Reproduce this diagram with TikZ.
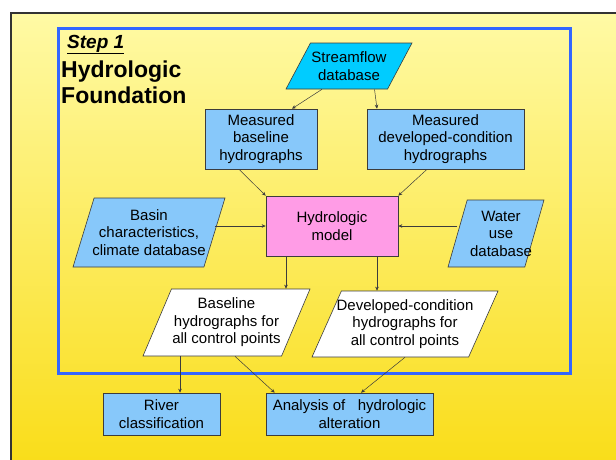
\documentclass[tikz,border=0pt]{standalone}
\usepackage{fontspec}
\setmainfont{Liberation Sans}
\usetikzlibrary{shapes.geometric,arrows.meta}
\definecolor{slidetop}{RGB}{255,250,165}
\definecolor{slidebot}{RGB}{249,220,20}
\definecolor{frameblue}{RGB}{51,102,255}
\definecolor{boxblue}{RGB}{135,200,250}
\definecolor{dbcyan}{RGB}{0,204,255}
\definecolor{modelpink}{RGB}{255,156,230}
\definecolor{edgegray}{RGB}{60,60,60}
\begin{document}
\begin{tikzpicture}[x=1pt,y=-1pt,
  txt/.style={align=center,inner sep=0pt,font=\fontsize{15}{17.5}\selectfont},
  box/.style={txt,draw=edgegray,line width=0.6pt},
  rbox/.style={box,rectangle,fill=boxblue},
  pbox/.style={box,trapezium,trapezium stretches body,
    trapezium left angle=#1,trapezium right angle={180-#1}},
  arr/.style={draw=edgegray,line width=0.5pt,-{Stealth[length=4pt,width=3.5pt]}}]
\useasboundingbox (0,0) rectangle (616,459);
\fill[white] (0,0) rectangle (616,459);
\shade[top color=slidetop,bottom color=slidebot,draw=black!80,line width=2pt] (11,13) rectangle (640,480);
\draw[frameblue,line width=3pt] (58,28) rectangle (570,373);
\node[anchor=base west,inner sep=0pt,font=\fontsize{19}{21}\selectfont\bfseries\itshape] (step) at (67,48) {\underline{Step 1}};
\node[anchor=north west,align=left,inner sep=0pt,font=\fontsize{23}{26}\selectfont\bfseries] (title) at (61,61) {Hydrologic\\Foundation};
% boxes
\node[pbox=62,fill=dbcyan,minimum width=126pt,
  label={[txt]center:Streamflow\\database}] (stream) at (349,66) {\rule{0pt}{46pt}};
\node[rbox,minimum width=112pt,minimum height=60pt] (mbase) at (261,139) {Measured\\baseline\\hydrographs};
\node[rbox,minimum width=157pt,minimum height=60pt] (mdev) at (445.5,139) {Measured\\developed-condition\\hydrographs};
\node[box,fill=modelpink,minimum width=132pt,minimum height=60pt] (model) at (332,226) {Hydrologic\\model};
\node[pbox=73,fill=boxblue,minimum width=152pt,
  label={[txt]center:Basin\\characteristics,\\climate database}] (basin) at (149,232.5) {\rule{0pt}{69pt}};
\node[pbox=74,fill=boxblue,minimum width=96pt,
  label={[txt,xshift=5pt]center:Water\\use\\database}] (water) at (496,233.5) {\rule{0pt}{67pt}};
\node[pbox=67,fill=white,minimum width=167pt,
  label={[txt]center:Baseline\\hydrographs for\\all control points}] (base) at (226.5,322.5) {\rule{0pt}{67pt}};
\node[pbox=66,fill=white,minimum width=186pt,
  label={[txt]center:Developed-condition\\hydrographs for\\all control points}] (dev) at (405,324) {\rule{0pt}{66pt}};
\node[rbox,minimum width=117pt,minimum height=42pt] (river) at (161.5,414) {River\\classification};
\node[rbox,minimum width=167pt,minimum height=42pt] (alter) at (349.5,414) {Analysis of\ \ \ hydrologic\\alteration};
% connectors
\coordinate (m1) at ([xshift=-46pt]model.south);
\coordinate (m2) at ([xshift=45pt]model.south);
\coordinate (b1) at ([xshift=-46.5pt]base.south);
\draw[arr] ([xshift=-27pt]stream.south) -- ([xshift=31pt]mbase.north);
\draw[arr] ([xshift=25.5pt]stream.south) -- ([xshift=-68.5pt]mdev.north);
\draw[arr] ([xshift=-22pt]mbase.south) -- (model.north west);
\draw[arr] ([xshift=-18.5pt]mdev.south) -- (model.north east);
\draw[arr] (basin.east |- model.west) -- (model.west);
\draw[arr] (water.west |- model.east) -- (model.east);
\draw[arr] (m1) -- (m1 |- base.north);
\draw[arr] (m2) -- (m2 |- dev.north);
\draw[arr] (b1) -- (b1 |- river.north);
\draw[arr] ([xshift=8.5pt]base.south) -- ([xshift=9pt]alter.north west);
\draw[arr] (dev.south) -- ([xshift=11.5pt]alter.north);
\end{tikzpicture}
\end{document}
